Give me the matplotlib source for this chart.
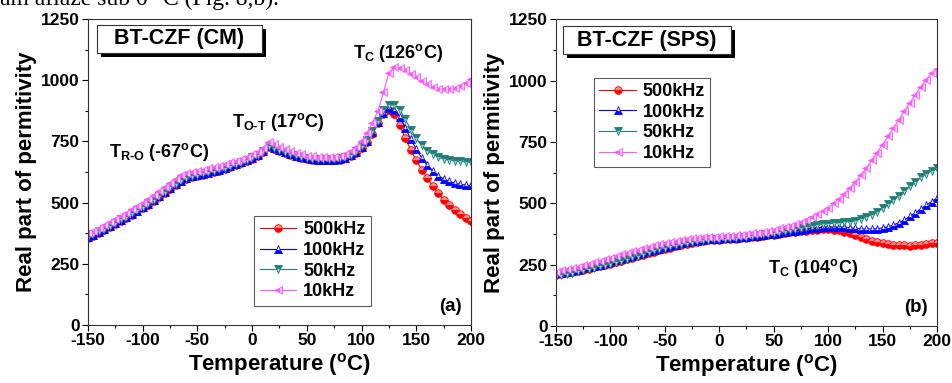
import numpy as np
import matplotlib
matplotlib.use("Agg")
import matplotlib.pyplot as plt

plt.rcParams['font.family'] = ['Liberation Sans', 'DejaVu Sans']
plt.rcParams['font.weight'] = 'bold'
plt.rcParams['axes.labelweight'] = 'bold'
plt.rcParams['axes.unicode_minus'] = False
plt.rcParams['mathtext.fontset'] = 'custom'
plt.rcParams['mathtext.rm'] = 'Liberation Sans:bold'
plt.rcParams['mathtext.it'] = 'Liberation Sans:bold'
plt.rcParams['mathtext.bf'] = 'Liberation Sans:bold'

temp = np.arange(-150, 201, 5)

freqs = ['500kHz', '100kHz', '50kHz', '10kHz']

# (a) BT-CZF conventional sintering
cm_500k = [355, 365, 377, 389, 401, 413, 426, 438, 451, 464,
           478, 492, 507, 523, 540, 557, 573, 587, 597, 604,
           609, 614, 619, 625, 631, 638, 646, 654, 662, 671,
           680, 690, 706, 728, 720, 710, 702, 695, 689, 683,
           678, 675, 673, 672, 672, 673, 676, 681, 690, 703,
           722, 748, 782, 825, 862, 878, 860, 815, 762, 715,
           672, 635, 600, 568, 538, 512, 490, 470, 453, 438, 426]
cm_100k = [358, 368, 380, 392, 404, 416, 429, 441, 454, 467,
           481, 495, 510, 526, 543, 560, 576, 590, 600, 607,
           612, 617, 622, 628, 634, 641, 649, 657, 665, 674,
           683, 693, 709, 731, 723, 713, 705, 698, 692, 686,
           681, 678, 676, 675, 675, 676, 679, 684, 693, 706,
           726, 752, 787, 830, 868, 888, 880, 848, 805, 760,
           718, 682, 652, 628, 610, 597, 587, 580, 575, 572, 570]
cm_50k = [360, 370, 382, 394, 406, 418, 431, 443, 456, 469,
          483, 497, 512, 528, 545, 562, 578, 592, 602, 609,
          614, 619, 624, 630, 636, 643, 651, 659, 667, 676,
          685, 695, 711, 733, 725, 715, 707, 700, 694, 688,
          683, 680, 678, 677, 677, 678, 681, 686, 695, 709,
          730, 757, 792, 835, 878, 898, 900, 880, 840, 798,
          762, 734, 712, 697, 686, 678, 673, 670, 668, 666, 664]
cm_10k = [375, 385, 397, 409, 421, 433, 446, 459, 472, 486,
          500, 515, 530, 547, 564, 582, 598, 612, 621, 627,
          631, 635, 640, 645, 651, 657, 664, 671, 679, 688,
          697, 708, 724, 748, 739, 728, 718, 710, 703, 697,
          692, 689, 687, 686, 686, 688, 692, 699, 710, 726,
          752, 785, 825, 875, 950, 1030, 1055, 1050, 1040, 1027,
          1012, 998, 985, 973, 966, 963, 963, 968, 977, 990, 1005]

# (b) BT-CZF spark plasma sintering
sps_500k = [210, 213, 217, 221, 225, 229, 234, 239, 244, 249,
            254, 260, 266, 272, 278, 284, 290, 296, 302, 308,
            314, 320, 326, 331, 336, 340, 344, 347, 349, 351,
            352, 353, 354, 356, 358, 360, 362, 364, 367, 370,
            373, 376, 379, 382, 385, 387, 389, 391, 393, 394,
            394, 393, 390, 385, 378, 370, 362, 355, 348, 343,
            339, 335, 332, 330, 329, 328, 329, 331, 334, 337, 340]
sps_100k = [215, 218, 222, 226, 230, 235, 240, 245, 250, 256,
            262, 268, 274, 280, 286, 292, 298, 304, 310, 316,
            322, 327, 332, 337, 341, 345, 348, 351, 353, 355,
            356, 357, 358, 360, 362, 364, 366, 368, 371, 374,
            377, 380, 383, 386, 389, 392, 395, 398, 400, 402,
            403, 404, 404, 403, 401, 399, 397, 396, 396, 397,
            400, 405, 412, 421, 433, 447, 462, 477, 492, 507, 522]
sps_50k = [205, 209, 213, 218, 223, 228, 233, 238, 243, 248,
           254, 260, 266, 273, 280, 287, 294, 301, 308, 314,
           320, 326, 331, 336, 340, 344, 347, 350, 352, 354,
           355, 356, 358, 360, 362, 365, 368, 371, 374, 377,
           380, 384, 388, 392, 396, 400, 404, 408, 411, 414,
           417, 419, 421, 423, 426, 430, 436, 444, 454, 466,
           480, 496, 513, 532, 551, 570, 589, 606, 621, 633, 643]
sps_10k = [222, 227, 232, 237, 242, 248, 254, 260, 266, 272,
           278, 285, 292, 299, 306, 312, 318, 324, 330, 335,
           340, 344, 348, 352, 355, 358, 360, 362, 364, 365,
           366, 367, 368, 370, 372, 375, 378, 381, 385, 389,
           393, 398, 403, 409, 416, 424, 433, 443, 455, 468,
           483, 500, 519, 540, 563, 588, 615, 644, 675, 707,
           740, 774, 808, 842, 876, 910, 943, 975, 1005, 1030, 1050]

styles = [
    dict(color='#ff0000', marker='o', fillstyle='bottom', markerfacecoloralt='#ff9090'),
    dict(color='#0000ff', marker='^', fillstyle='bottom', markerfacecoloralt='#ffffff'),
    dict(color='#1f7f78', marker='v', fillstyle='top', markerfacecoloralt='#9fd0cb'),
    dict(color='#ff55ff', marker='<', fillstyle='left', markerfacecoloralt='#ffd0ff'),
]

fig = plt.figure(figsize=(9.53, 3.83), dpi=100)
ax1 = fig.add_axes([0.0923, 0.1514, 0.4019, 0.7990])
ax2 = fig.add_axes([0.5834, 0.1488, 0.3998, 0.8003])

fig.text(0.0, 0.986, 'am aflaze sub 0 °C (Fig. 8,b).', family='Liberation Serif',
         fontweight='normal', fontsize=17, va='baseline', ha='left')


def draw(ax, series, title, tag, legend_box, box):
    for vals, lab, st in zip(series, freqs, styles):
        ax.plot(temp, vals, lw=0.8, ms=5.5, mew=0.6, label=lab, **st)
    ax.set_xlim(-150, 200)
    ax.set_ylim(0, 1250)
    ax.set_xticks(np.arange(-150, 201, 50))
    ax.set_xticks(np.arange(-150, 201, 25), minor=True)
    ax.set_yticks(np.arange(0, 1251, 250))
    ax.set_yticks(np.arange(0, 1251, 125), minor=True)
    ax.tick_params(which='both', direction='out', top=False, right=False,
                   labelsize=12.5, width=0.8, pad=2)
    ax.tick_params(which='major', length=4)
    ax.tick_params(which='minor', length=2.5)
    for sp in ax.spines.values():
        sp.set_linewidth(0.8)
        sp.set_color('#333333')
    ax.set_xlabel(r'Temperature ($^{\mathrm{o}}$C)', fontsize=16, labelpad=2)
    ax.set_ylabel('Real part of permitivity', fontsize=16, labelpad=3)

    # title box with a drop shadow
    x0, y0, w, h = box
    ax.add_patch(plt.Rectangle((x0 + 0.011, y0 - 0.013), w, h, transform=ax.transAxes,
                               fc='black', ec='none', zorder=4))
    ax.add_patch(plt.Rectangle((x0, y0), w, h, transform=ax.transAxes,
                               fc='white', ec='#333333', lw=0.8, zorder=4.5))
    ax.text(x0 + w / 2, y0 + h / 2, title, transform=ax.transAxes, fontsize=15.5,
            va='center', ha='center', zorder=6)

    ax.text(0.975, 0.06, tag, transform=ax.transAxes, fontsize=13.5,
            ha='right', va='center')
    leg = ax.legend(loc='upper left', bbox_to_anchor=legend_box, fontsize=13,
                    frameon=True, fancybox=False, edgecolor='#333333',
                    handlelength=2.0, handletextpad=0.4, labelspacing=0.2,
                    borderpad=0.3, borderaxespad=0)
    leg.get_frame().set_linewidth(0.8)


draw(ax1, [cm_500k, cm_100k, cm_50k, cm_10k], 'BT-CZF (CM)', '(a)',
     (0.434, 0.356), (0.0235, 0.889, 0.431, 0.0915))
draw(ax2, [sps_500k, sps_100k, sps_50k, sps_10k], 'BT-CZF (SPS)', '(b)',
     (0.100, 0.810), (0.018, 0.887, 0.441, 0.0913))

ax1.text(92, 1111, r'T$_{\mathrm{C}}$ (126$^{\mathrm{o}}$C)', fontsize=13, va='center')
ax1.text(-18, 830, r'T$_{\text{O-T}}$ (17$^{\mathrm{o}}$C)', fontsize=13, va='center')
ax1.text(-131, 708, r'T$_{\text{R-O}}$ (-67$^{\mathrm{o}}$C)', fontsize=13, va='center')
ax2.text(45, 237, r'T$_{\mathrm{C}}$ (104$^{\mathrm{o}}$C)', fontsize=13, va='center')

fig.savefig('out.png', dpi=100)
